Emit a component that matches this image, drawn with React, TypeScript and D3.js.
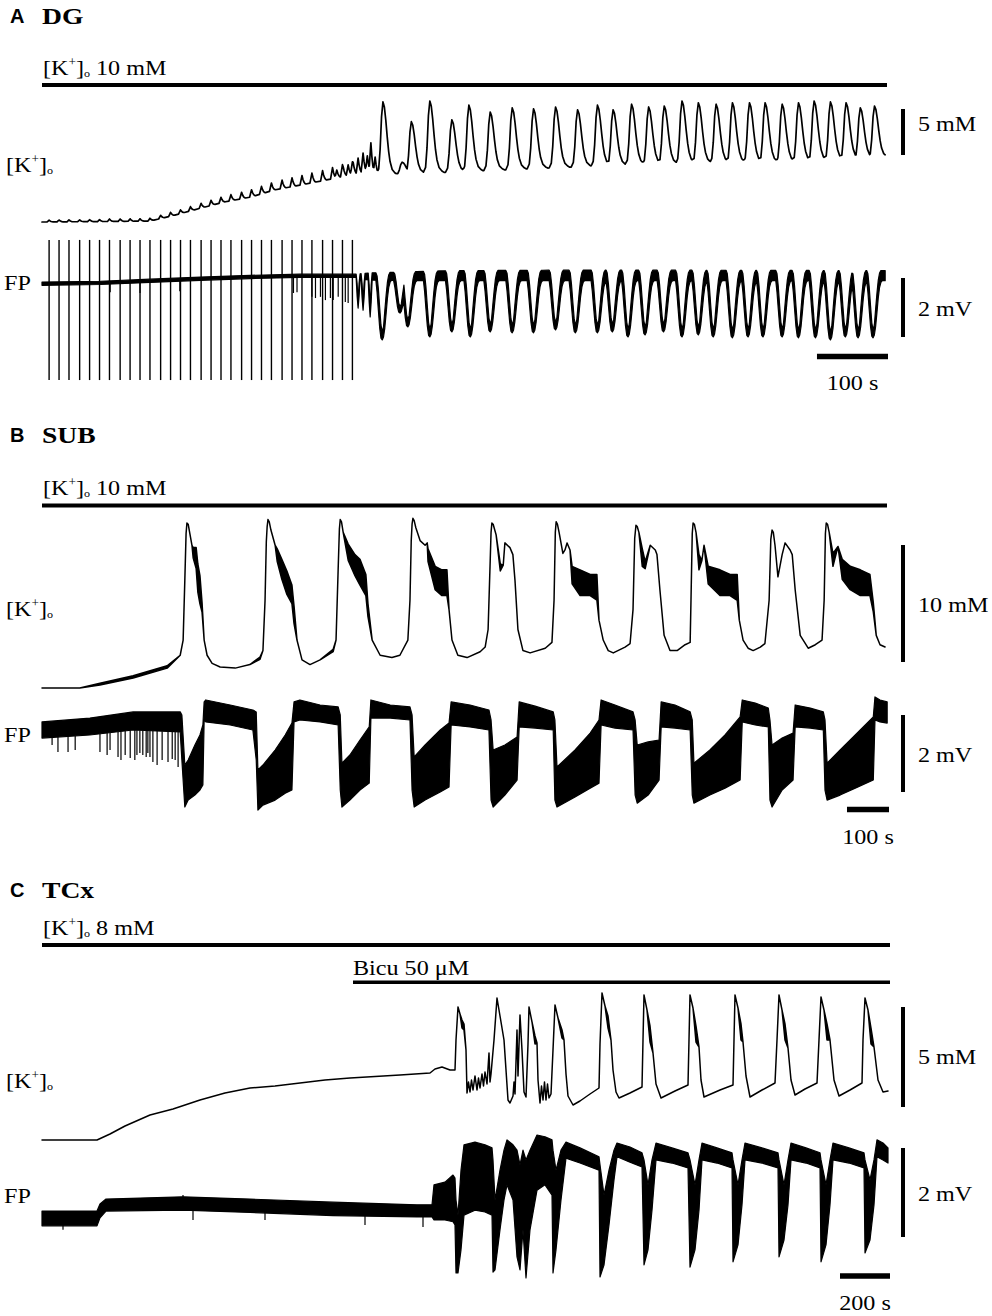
import React from 'react';
import * as d3 from 'd3';

const W = 992;
const H = 1316;
const SERIF = "'Liberation Serif', 'Times New Roman', serif";
const SANS = "'Liberation Sans', Arial, sans-serif";
const STRETCH = 1.15; // the figure's lettering is a little wider than Times

type Row = number[]; // [t, v] or [t, lo, hi]

// ================= Panel A : DG  (t in s, K in mM, FP in mV) =================
// stimulus artefacts on the FP trace
const aStimTimes = [10, 24, 38, 53, 67, 81, 95, 110, 124, 138, 152, 167, 181, 195, 209, 224, 238, 252, 266, 281, 295, 309, 323, 338, 352, 366, 380, 395, 409, 423, 437];
const aStimRange = [1.46, -3.29];
// small [K+]o bump evoked by each stimulus (mM)
const aKStimBump = [0.2, 0.2, 0.2, 0.2, 0.2, 0.2, 0.25, 0.25, 0.25, 0.25, 0.3, 0.35, 0.4, 0.4, 0.45, 0.5, 0.55, 0.6, 0.65, 0.7, 0.75, 0.8, 0.85, 0.9, 0.95, 1.0, 1.05, 1.1, 1.2, 1.3, 1.4];
// slow baseline / trough level of [K+]o
const aKBase: Row[] = [[0, 10.0], [152, 10.1], [187, 10.75], [223, 11.5], [258, 12.2], [293, 12.7], [328, 13.5], [363, 14.0], [399, 14.55], [434, 15.1], [458, 15.45], [476, 15.1], [645, 15.65], [786, 16.1], [927, 16.4], [1068, 16.5], [1187, 17.05]];
// fast small transients just before the first large one
const aKPreBurst: Row[] = [[415, 15.65], [424, 16.0], [431, 16.2], [438, 16.5], [445, 16.95], [452, 17.5], [458, 17.2], [463, 18.6], [469, 17.05]];
// large [K+]o transients: [time, peak]
const aKPeaks: Row[] = [[480, 23.05], [507, 16.5], [520, 20.9], [546, 23.15], [577, 21.1], [601, 22.7], [631, 21.95], [662, 22.4], [692, 22.3], [723, 22.5], [754, 22.2], [782, 22.7], [804, 22.2], [830, 22.8], [854, 22.5], [876, 22.6], [901, 23.15], [924, 22.95], [949, 22.8], [972, 22.95], [996, 22.95], [1018, 22.95], [1042, 22.8], [1065, 22.95], [1087, 23.15], [1110, 23.05], [1132, 22.95], [1152, 22.4], [1172, 22.6]];
// FP resting band [t, lower, upper]
const aFpBand: Row[] = [[0, -0.08, 0.03], [82, -0.05, 0.06], [152, 0.02, 0.13], [223, 0.09, 0.2], [293, 0.15, 0.26], [363, 0.19, 0.3], [441, 0.19, 0.3], [460, 0.1, 0.34], [504, 0.08, 0.37], [575, 0.08, 0.42], [786, 0.08, 0.44], [1187, 0.08, 0.42]];
// FP negative shifts: [time, trough]
const aFpEarlyDips: Row[] = [[445, -0.85], [452, -0.92], [462, -1.15]];
const aFpDips: Row[] = [[479, -1.93], [504, -1.02], [515, -1.49], [546, -1.83], [577, -1.66], [603, -1.83], [631, -1.66], [662, -1.69], [692, -1.69], [723, -1.59], [751, -1.69], [782, -1.69], [803, -1.66], [825, -1.83], [849, -1.76], [875, -1.66], [901, -1.83], [924, -1.76], [945, -1.83], [972, -1.86], [994, -1.83], [1015, -1.83], [1042, -1.83], [1065, -1.86], [1089, -1.86], [1110, -1.93], [1131, -1.83], [1149, -1.86], [1170, -1.86]];
const aFpSpikes: Row[] = [[96, -0.31], [138, -0.34], [194, -0.28], [354, -0.34], [359, -0.31], [380, -0.47], [385, -0.51], [392, -0.47], [399, -0.58], [406, -0.51], [410, -0.58], [417, -0.47], [427, -0.64], [431, -0.68]];

// waveform shapes: [dt (s), fraction] / [dt, fracLower, fracUpper]
const kBigShape: Row[] = [[-9, 0], [-6, 0.08], [-4, 0.35], [-2, 0.8], [0, 1], [2, 0.93], [4, 0.75], [6, 0.52], [8, 0.32], [10, 0.18], [13, 0.07], [17, 0.02], [20, 0]];
const kSmallShape: Row[] = [[-2.8, 0], [-1.4, 0.5], [0, 1], [1.4, 0.55], [2.8, 0.25], [4.2, 0.08], [5.6, 0]];
const fpDipShape: Row[] = [[-9, 0, 0], [-7.3, 0.2, 0.05], [-5.5, 0.5, 0.25], [-3.6, 0.8, 0.55], [-1.8, 0.97, 0.82], [0, 1, 0.93], [1.8, 0.95, 0.85], [3.6, 0.8, 0.6], [5.5, 0.55, 0.35], [7.3, 0.3, 0.15], [9.1, 0.12, 0.04], [11, 0.03, 0], [12.9, 0, 0]];
const fpNarrowDip: Row[] = [[-2.8, 0, 0], [-1.4, 0.6, 0.3], [0, 1, 0.85], [1.4, 0.6, 0.3], [2.8, 0, 0]];

// ================= Panel B : SUB =================
const bKTrace: Row[] = [
  [0, 10.0], [90, 10.0], [138, 10.25, 10.4], [217, 10.85, 11.05], [298, 11.7, 11.9], [329, 12.8], [336, 14.1], [340, 19.2], [343, 23.2], [345, 24.1], [348, 24.0], [352, 23.2], [357, 22.2], [360, 21.1, 22.0], [367, 20.2, 22.0], [371, 18.2, 20.6], [376, 17.2, 19.6], [381, 16.5, 17.3], [386, 14.1], [393, 12.8], [405, 12.1], [424, 11.8], [460, 11.7], [495, 12.0],
  [519, 12.45, 12.65], [526, 13.2], [531, 17.5], [534, 22.5], [536, 23.8], [538, 24.4], [541, 24.2], [545, 23.5], [555, 22.2], [560, 20.8, 21.9], [571, 19.3, 21.0], [583, 18.0, 20.0], [595, 17.2, 18.8], [600, 15.5, 17.0], [607, 14.1], [619, 12.4], [638, 12.0], [662, 12.4],
  [693, 13.1, 13.3], [700, 14.1], [705, 20.1], [708, 23.6], [710, 24.4], [713, 24.2], [717, 23.3], [729, 20.9, 22.3], [745, 19.6, 21.4], [757, 18.8, 21.0], [771, 17.9, 19.7], [776, 16.1, 17.2], [786, 14.1], [805, 12.8], [833, 12.6], [852, 12.8],
  [871, 14.1], [876, 17.5], [879, 22.6], [881, 24.0], [883, 24.5], [886, 24.3], [890, 23.7], [900, 22.6], [912, 22.2], [917, 22.4], [919, 20.8, 21.9], [936, 18.4, 20.4], [952, 17.9, 20.1], [964, 17.9, 20.1], [969, 16.7], [976, 14.1], [990, 12.8], [1012, 12.6], [1043, 13.1],
  [1055, 13.5], [1062, 15.0], [1067, 20.9], [1069, 23.3], [1071, 24.1], [1074, 24.0], [1081, 23.1], [1091, 20.0, 20.6], [1098, 20.5], [1102, 22.4], [1114, 22.0], [1121, 21.4], [1126, 19.2], [1133, 15.0], [1145, 13.2], [1162, 13.0], [1198, 13.4],
  [1214, 13.9], [1219, 17.5], [1222, 23.3], [1224, 24.2], [1227, 24.0], [1231, 23.3], [1240, 21.5], [1245, 21.8], [1250, 22.4], [1257, 21.8], [1262, 18.9, 20.4], [1281, 17.9, 20.1], [1305, 17.9, 19.7], [1321, 17.5, 19.7], [1326, 15.8], [1336, 14.1], [1348, 13.2], [1360, 13.0], [1388, 13.5],
  [1400, 13.8], [1407, 16.7], [1411, 22.8], [1414, 23.9], [1417, 23.8], [1421, 23.3], [1429, 20.4, 21.9], [1436, 20.2, 20.8], [1448, 22.2], [1460, 21.8], [1464, 21.4], [1471, 18.4], [1481, 14.5], [1495, 13.2], [1512, 13.2], [1531, 13.7],
  [1543, 13.9], [1545, 17.5], [1548, 23.2], [1550, 24.1], [1553, 24.0], [1557, 23.3], [1564, 20.1, 21.4], [1571, 20.9], [1576, 22.2], [1586, 18.9, 20.4], [1614, 17.9, 20.1], [1638, 17.9, 19.7], [1655, 17.5, 19.7], [1660, 15.8], [1669, 14.1], [1681, 13.4], [1693, 13.2], [1710, 13.5],
  [1721, 13.8], [1731, 17.5], [1735, 22.7], [1738, 23.5], [1741, 23.3], [1745, 22.2], [1752, 19.5], [1762, 21.4], [1769, 22.4], [1781, 21.8], [1786, 21.4], [1793, 18.4], [1805, 14.5], [1824, 13.4], [1841, 13.7],
  [1857, 14.1], [1862, 17.5], [1865, 23.2], [1867, 24.1], [1870, 24.0], [1874, 23.3], [1883, 20.4, 21.5], [1895, 22.1], [1905, 19.3, 21.0], [1924, 18.4, 20.4], [1948, 17.9, 20.1], [1971, 17.9, 19.7], [1979, 16.5, 17.3], [1986, 14.5], [1995, 13.7], [2007, 13.5],
];
const bFpTrace: Row[] = [
  [0, -0.21, 0.21], [114, -0.13, 0.31], [217, 0, 0.47], [329, -0.05, 0.47], [333, -0.78, 0.39], [340, -2.0, -0.91], [348, -1.82, -0.78], [364, -1.69, -0.39], [376, -1.56, -0.13], [383, -1.43, 0.13],
  [386, 0.26, 0.73], [390, 0.21, 0.78], [448, 0.13, 0.65], [502, 0, 0.52], [510, -0.78, 0.47], [514, -2.08, -1.04], [526, -1.95, -0.91], [555, -1.82, -0.52], [579, -1.64, -0.13], [595, -1.56, 0.18],
  [600, 0.21, 0.73], [614, 0.26, 0.78], [662, 0.21, 0.65], [705, 0.13, 0.6], [710, -1.56, 0.39], [714, -2.0, -0.86], [733, -1.82, -0.65], [757, -1.56, -0.26], [779, -1.38, 0.08],
  [783, 0.31, 0.78], [829, 0.31, 0.65], [876, 0.26, 0.6], [881, -1.56, 0.39], [886, -2.0, -0.7], [912, -1.82, -0.39], [948, -1.61, 0], [969, -1.48, 0.18],
  [974, 0.13, 0.73], [1019, 0.08, 0.65], [1064, 0, 0.52], [1069, -1.82, 0.26], [1074, -2.0, -0.52], [1102, -1.69, -0.39], [1131, -1.3, -0.18],
  [1136, 0.08, 0.73], [1174, 0.05, 0.62], [1217, 0, 0.47], [1221, -1.82, 0.26], [1226, -2.0, -0.96], [1269, -1.74, -0.52], [1305, -1.51, -0.08], [1326, -1.38, 0.26],
  [1331, 0.13, 0.78], [1364, 0.05, 0.65], [1407, 0, 0.47], [1412, -1.69, 0.26], [1417, -1.9, -0.39], [1443, -1.69, -0.31], [1469, -1.3, -0.26],
  [1474, 0.08, 0.73], [1507, 0.05, 0.65], [1543, 0, 0.47], [1548, -1.69, 0.26], [1552, -1.9, -0.86], [1590, -1.69, -0.52], [1626, -1.51, -0.13], [1662, -1.3, 0.34],
  [1667, 0.21, 0.78], [1698, 0.13, 0.7], [1729, 0.08, 0.57], [1733, -1.82, 0.26], [1738, -2.0, -0.39], [1762, -1.56, -0.21], [1788, -1.3, -0.08],
  [1793, 0.08, 0.65], [1829, 0.05, 0.57], [1860, 0, 0.47], [1864, -1.56, 0.26], [1869, -1.82, -0.86], [1900, -1.69, -0.52], [1936, -1.51, -0.13], [1979, -1.3, 0.34],
  [1983, 0.26, 0.86], [1995, 0.21, 0.78], [2012, 0.18, 0.73],
];
const bFpSpikes: Row[] = [[24, -0.39], [38, -0.57], [62, -0.57], [79, -0.52], [138, -0.57], [155, -0.65], [162, -0.52], [181, -0.7], [188, -0.78], [198, -0.65], [210, -0.73], [221, -0.78], [226, -0.65], [233, -0.6], [240, -0.65], [248, -0.7], [252, -0.6], [257, -0.7], [264, -0.83], [274, -0.91], [286, -0.78], [300, -0.83], [310, -0.75], [317, -0.78], [324, -0.96]];

// ================= Panel C : TCx =================
const cKTrace: Row[] = [
  [0, 8.0], [220, 8.0], [272, 8.3], [332, 8.7], [432, 9.25], [524, 9.55], [632, 10.0], [732, 10.35], [832, 10.6], [932, 10.7], [1032, 10.85], [1132, 11.0], [1232, 11.1], [1432, 11.25], [1552, 11.35], [1572, 11.55], [1600, 11.65], [1632, 11.5], [1652, 11.5],
  [1656, 13.0], [1664, 14.65], [1672, 14.3], [1680, 13.6, 14.0], [1688, 13.5, 13.8], [1696, 12.5], [1700, 10.35], [1706, 10.9], [1712, 10.4], [1718, 11.0], [1724, 10.5], [1732, 11.2], [1740, 10.5], [1746, 11.1], [1752, 10.6], [1760, 11.3], [1766, 10.7], [1772, 11.4], [1780, 10.8], [1788, 12.35], [1792, 10.9], [1796, 11.3],
  [1808, 13.0], [1820, 15.1], [1832, 14.2], [1848, 13.0], [1856, 11.5], [1864, 10.0], [1872, 9.85], [1884, 10.2], [1888, 10.9], [1892, 10.3], [1900, 13.5], [1904, 11.2], [1912, 14.25], [1920, 12.5], [1928, 10.4], [1936, 10.15],
  [1944, 12.8], [1948, 14.65], [1960, 13.9], [1972, 12.8, 13.2], [1980, 12.85], [1984, 11.0], [1992, 9.85], [1998, 10.7], [2004, 10.0], [2010, 10.9], [2016, 10.0], [2022, 10.8], [2028, 10.1], [2036, 10.3],
  [2044, 12.5], [2052, 14.75], [2064, 14.1], [2080, 13.1, 13.5], [2088, 13.0], [2096, 11.3], [2104, 10.2], [2124, 9.75], [2152, 9.95], [2192, 10.3], [2228, 10.6],
  [2232, 12.8], [2240, 15.35], [2252, 14.7], [2264, 13.6, 14.2], [2276, 13.0], [2284, 11.5], [2296, 10.4], [2308, 10.1], [2352, 10.35], [2400, 10.65],
  [2404, 13.0], [2408, 15.25], [2420, 14.5], [2432, 12.9, 13.7], [2444, 12.35], [2456, 10.8], [2476, 10.1], [2532, 10.45], [2584, 10.75],
  [2588, 13.0], [2592, 15.25], [2604, 14.6], [2616, 12.9, 13.7], [2628, 12.65], [2636, 11.0], [2648, 10.15], [2712, 10.5], [2764, 10.75],
  [2768, 13.0], [2772, 15.25], [2784, 14.6], [2796, 13.0, 13.8], [2804, 12.9], [2816, 11.2], [2832, 10.15], [2880, 10.5], [2932, 10.85],
  [2940, 13.0], [2948, 15.25], [2960, 14.5], [2972, 13.0, 13.8], [2984, 12.6], [2996, 11.0], [3012, 10.25], [3052, 10.55], [3100, 10.85],
  [3108, 13.0], [3116, 15.15], [3128, 14.5], [3140, 13.0, 13.8], [3152, 13.0], [3168, 11.0], [3188, 10.2], [3232, 10.5], [3280, 10.85],
  [3284, 13.0], [3292, 15.1], [3304, 14.5], [3316, 12.8, 13.6], [3328, 12.65], [3344, 11.0], [3364, 10.4], [3384, 10.45],
];
const cFpTrace: Row[] = [
  [0, -0.13, 0.2], [220, -0.13, 0.2], [232, 0.05, 0.36], [256, 0.2, 0.47], [564, 0.22, 0.52], [832, 0.17, 0.47], [1164, 0.1, 0.4], [1500, 0.07, 0.34], [1560, 0.07, 0.34],
  [1568, 0, 0.79], [1612, 0, 0.85], [1644, -0.04, 1.01], [1652, -0.11, 0.94], [1656, -1.19, 0.45], [1664, -1.19, 0.11], [1676, -0.67, 1.12], [1688, 0.11, 1.69], [1732, 0.22, 1.75], [1772, 0.18, 1.69], [1800, 0.11, 1.62],
  [1804, -1.17, 1.35], [1812, -1.12, 0.45], [1832, -0.22, 1.12], [1848, 0.45, 1.57], [1860, 0.79, 1.8], [1884, 0.45, 1.69], [1900, -0.83, 1.57], [1912, -1.12, 1.24], [1924, -0.22, 1.57], [1936, -1.3, 1.35], [1952, -0.22, 1.57],
  [1980, 0.67, 1.91], [2012, 0.79, 1.87], [2040, 0.56, 1.8], [2044, -1.19, 1.57], [2056, -0.67, 1.12], [2076, 0.45, 1.57], [2096, 1.39, 1.75], [2152, 1.28, 1.62], [2228, 1.12, 1.42],
  [2232, -1.28, 1.24], [2248, -1.01, 0.56], [2268, -0.11, 1.12], [2288, 0.9, 1.57], [2300, 1.42, 1.73], [2352, 1.3, 1.64], [2400, 1.19, 1.51],
  [2408, -1.01, 1.35], [2424, -0.67, 0.79], [2440, 0.22, 1.35], [2456, 1.35, 1.73], [2520, 1.28, 1.62], [2584, 1.17, 1.51],
  [2592, -1.06, 1.35], [2612, -0.67, 0.79], [2628, 0.22, 1.35], [2640, 1.35, 1.73], [2700, 1.28, 1.62], [2760, 1.17, 1.51],
  [2764, -0.94, 1.35], [2784, -0.56, 0.79], [2800, 0.34, 1.35], [2812, 1.35, 1.73], [2880, 1.28, 1.62], [2944, 1.17, 1.51],
  [2948, -0.83, 1.35], [2968, -0.45, 0.79], [2984, 0.34, 1.35], [2996, 1.35, 1.73], [3056, 1.28, 1.62], [3112, 1.17, 1.51],
  [3116, -0.94, 1.35], [3136, -0.56, 0.79], [3152, 0.34, 1.35], [3164, 1.35, 1.73], [3228, 1.28, 1.62], [3288, 1.17, 1.51],
  [3292, -0.74, 1.35], [3312, -0.45, 0.9], [3328, 0.34, 1.35], [3340, 1.42, 1.8], [3364, 1.35, 1.73], [3384, 1.28, 1.62],
];
const cFpSpikes: Row[] = [[84, -0.22], [564, 0.56], [604, 0.0], [892, 0.0], [1292, -0.11], [1524, -0.16]];

// ---------------- helpers ----------------
const lerp = (rows: Row[], col: number) =>
  d3.scaleLinear()
    .domain(rows.map(r => r[0]))
    .range(rows.map(r => r[col]))
    .clamp(true);

const knotsOf = (times: number[], t0: number, t1: number) =>
  Array.from(new Set(times.map(t => Math.round(t * 10) / 10)))
    .filter(t => t >= t0 && t <= t1)
    .sort((a, b) => a - b);

function buildAK(): Row[] {
  const base = lerp(aKBase, 1);
  const big = lerp(kBigShape, 1);
  const small = lerp(kSmallShape, 1);
  const evs = [
    ...aKPeaks.map(([t, v]) => ({ t, amp: v - base(t), f: big, sh: kBigShape })),
    ...aKPreBurst.map(([t, v]) => ({ t, amp: v - base(t), f: small, sh: kSmallShape })),
    ...aStimTimes.map((t, i) => ({ t, amp: aKStimBump[i], f: small, sh: kSmallShape })),
  ];
  const knots = knotsOf([...aKBase.map(r => r[0]), ...evs.flatMap(e => e.sh.map(s => e.t + s[0]))], 0, 1187);
  return knots.map(t => [t, base(t) + (d3.max(evs, e => e.amp * e.f(t - e.t)) ?? 0)]);
}

function buildAFp(): Row[] {
  const lo = lerp(aFpBand, 1);
  const hi = lerp(aFpBand, 2);
  const mk = (rows: Row[], shape: Row[]) =>
    rows.map(([t, v]) => ({ t, dLo: v - lo(t), dHi: v + 0.12 - hi(t), fLo: lerp(shape, 1), fHi: lerp(shape, 2), sh: shape }));
  const evs = [...mk(aFpEarlyDips, fpNarrowDip), ...mk(aFpDips, fpDipShape)];
  const knots = knotsOf([...aFpBand.map(r => r[0]), ...evs.flatMap(e => e.sh.map(s => e.t + s[0]))], 0, 1187);
  return knots.map(t => [
    t,
    lo(t) + Math.min(0, d3.min(evs, e => e.dLo * e.fLo(t - e.t)) ?? 0),
    hi(t) + Math.min(0, d3.min(evs, e => e.dHi * e.fHi(t - e.t)) ?? 0),
  ]);
}

function Trace({ rows, x, y, w = 1.3 }: { rows: Row[]; x: any; y: any; w?: number }) {
  const area = d3.area<Row>()
    .x(r => x(r[0]))
    .y0(r => y(r[1]))
    .y1(r => y(r[r.length - 1]));
  return <path d={area(rows) ?? ''} fill="#000" stroke="#000" strokeWidth={w} strokeLinejoin="round" />;
}

function Spikes({ rows, from, x, y }: { rows: Row[]; from: (t: number) => number; x: any; y: any }) {
  return (
    <g stroke="#000" strokeWidth={1.2}>
      {rows.map(([t, v], i) => (
        <line key={i} x1={x(t)} x2={x(t)} y1={y(from(t))} y2={y(v)} />
      ))}
    </g>
  );
}

// serif lettering, slightly widened like the original
function T({ x, y, size = 21, anchor = 'start', bold = false, children }: any) {
  return (
    <text transform={`translate(${x},${y}) scale(${STRETCH},1)`} fontSize={size} fontFamily={SERIF}
      fontWeight={bold ? 'bold' : 'normal'} textAnchor={anchor}>
      {children}
    </text>
  );
}

function KLabel({ x, y, size = 21, rest }: { x: number; y: number; size?: number; rest?: string }) {
  return (
    <T x={x} y={y} size={size}>
      [K
      <tspan fontSize={size * 0.55} dy={-size * 0.42}>+</tspan>
      <tspan dy={size * 0.42}>]</tspan>
      <tspan fontSize={size * 0.5} dy={size * 0.08}>o</tspan>
      {rest ? <tspan dx={size * 0.25} dy={-size * 0.08}>{rest}</tspan> : null}
    </T>
  );
}

function Title({ y, letter, name }: { y: number; letter: string; name: string }) {
  return (
    <g>
      <text x={10} y={y} fontSize={20} fontWeight="bold" fontFamily={SANS}>{letter}</text>
      <T x={42} y={y + 1} size={24} bold>{name}</T>
    </g>
  );
}

function VBar({ x, bottom, len, label, ly }: { x: number; bottom: number; len: number; label: string; ly: number }) {
  return (
    <g>
      <rect x={x - 2} y={bottom - len} width={4} height={len} fill="#000" />
      <T x={x + 15} y={ly}>{label}</T>
    </g>
  );
}

function HBar({ right, cy, len, label, ly }: { right: number; cy: number; len: number; label: string; ly: number }) {
  return (
    <g>
      <rect x={right - len} y={cy - 2.75} width={len} height={5.5} fill="#000" />
      <T x={right - len / 2} y={ly} anchor="middle">{label}</T>
    </g>
  );
}

export default function App() {
  // panel A scales
  const xA = d3.scaleLinear().domain([0, 1191]).range([42, 888]);
  const yAK = d3.scaleLinear().domain([10, 20]).range([222, 130]);
  const yAF = d3.scaleLinear().domain([0, 2]).range([283, 224]);
  // panel B scales
  const xB = d3.scaleLinear().domain([0, 2014]).range([42, 888]);
  const yBK = d3.scaleLinear().domain([10, 20]).range([688, 571]);
  const yBF = d3.scaleLinear().domain([0, 2]).range([730, 653]);
  // panel C scales
  const xC = d3.scaleLinear().domain([0, 3384]).range([42, 888]);
  const yCK = d3.scaleLinear().domain([8, 13]).range([1140, 1040]);
  const yCF = d3.scaleLinear().domain([0, 2]).range([1220, 1131]);

  const aK = buildAK();
  const aFp = buildAFp();
  const aBandMid = (t: number) => (lerp(aFpBand, 1)(t) + lerp(aFpBand, 2)(t)) / 2;
  const bFpLo = lerp(bFpTrace, 1);
  const cFpMid = (t: number) => (lerp(cFpTrace, 1)(t) + lerp(cFpTrace, 2)(t)) / 2;

  return (
    <svg width={W} height={H} style={{ position: 'absolute', left: 0, top: 0 }} fontFamily={SERIF}>
      <rect width={W} height={H} fill="#fff" />

      {/* ---------- A ---------- */}
      <Title y={23} letter="A" name="DG" />
      <KLabel x={43} y={75} rest="10 mM" />
      <rect x={42} y={83} width={845} height={4} fill="#000" />
      <KLabel x={6} y={172} />
      <T x={4} y={290}>FP</T>
      <Trace rows={aK} x={xA} y={yAK} w={1.7} />
      <Trace rows={aFp} x={xA} y={yAF} w={1.2} />
      <Spikes rows={aFpSpikes} from={aBandMid} x={xA} y={yAF} />
      <g stroke="#000" strokeWidth={1.4}>
        {aStimTimes.map((t, i) => (
          <line key={i} x1={xA(t)} x2={xA(t)} y1={yAF(aStimRange[0])} y2={yAF(aStimRange[1])} />
        ))}
      </g>
      <VBar x={903} bottom={155} len={yAK(10) - yAK(15)} label="5 mM" ly={131} />
      <VBar x={903} bottom={337} len={yAF(0) - yAF(2)} label="2 mV" ly={316} />
      <HBar right={888} cy={356.5} len={xA(100) - xA(0)} label="100 s" ly={390} />

      {/* ---------- B ---------- */}
      <Title y={442} letter="B" name="SUB" />
      <KLabel x={43} y={495} rest="10 mM" />
      <rect x={42} y={503.5} width={845} height={4} fill="#000" />
      <KLabel x={6} y={616} />
      <T x={4} y={742}>FP</T>
      <Trace rows={bKTrace} x={xB} y={yBK} w={1.5} />
      <Trace rows={bFpTrace} x={xB} y={yBF} w={1.2} />
      <Spikes rows={bFpSpikes} from={bFpLo} x={xB} y={yBF} />
      <VBar x={903} bottom={662} len={yBK(10) - yBK(20)} label="10 mM" ly={612} />
      <VBar x={903} bottom={792} len={yBF(0) - yBF(2)} label="2 mV" ly={762} />
      <HBar right={889} cy={809.5} len={xB(100) - xB(0)} label="100 s" ly={844} />

      {/* ---------- C ---------- */}
      <Title y={897} letter="C" name="TCx" />
      <KLabel x={43} y={935} rest="8 mM" />
      <rect x={42} y={943} width={848} height={4} fill="#000" />
      <T x={353} y={975}>Bicu 50 μM</T>
      <rect x={353} y={980.5} width={537} height={3.5} fill="#000" />
      <KLabel x={6} y={1088} />
      <T x={4} y={1203}>FP</T>
      <Trace rows={cKTrace} x={xC} y={yCK} w={1.5} />
      <Trace rows={cFpTrace} x={xC} y={yCF} w={1.2} />
      <Spikes rows={cFpSpikes} from={cFpMid} x={xC} y={yCF} />
      <VBar x={903} bottom={1107} len={yCK(8) - yCK(13)} label="5 mM" ly={1064} />
      <VBar x={903} bottom={1237} len={yCF(0) - yCF(2)} label="2 mV" ly={1201} />
      <HBar right={890} cy={1276} len={xC(200) - xC(0)} label="200 s" ly={1310} />
    </svg>
  );
}
